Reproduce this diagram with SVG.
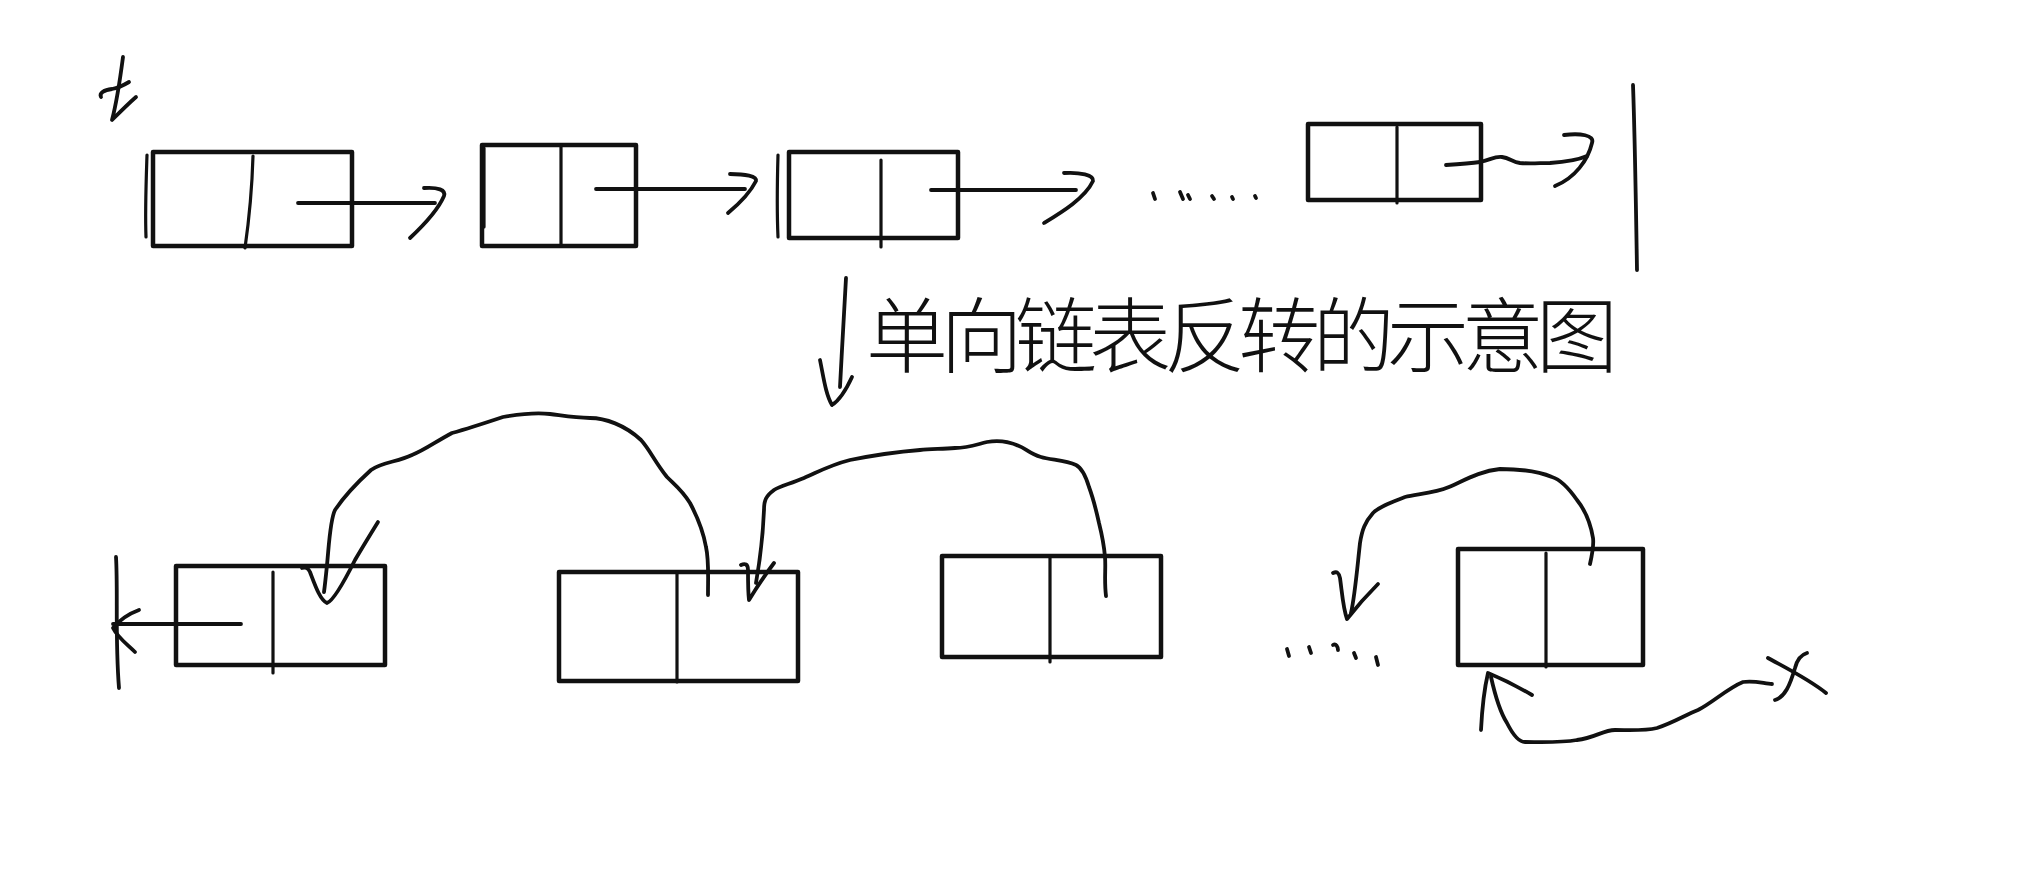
<svg xmlns="http://www.w3.org/2000/svg" width="2022" height="874" viewBox="0 0 2022 874">
<style>
.box{fill:none;stroke:#111;stroke-width:4.5;stroke-linejoin:round}
.div{fill:none;stroke:#111;stroke-width:3.2;stroke-linecap:round}
.ln{fill:none;stroke:#111;stroke-width:3.8;stroke-linecap:round;stroke-linejoin:round}
.tx{font-family:"Noto Sans CJK SC","Noto Sans CJK JP",sans-serif;font-size:82px;font-weight:300;fill:#111}
</style>
<rect width="2022" height="874" fill="#fff"/>
<g id="label-t"><path class="ln" d="M123,57 C120,80 116,105 112,120 C120,112 128,104 136,97"/><path class="ln" d="M101,97 C99,93 104,90 112,89 C118,88 124,85 129,82"/></g>
<g id="node1"><rect class="box" x="153" y="152" width="199" height="94"/><path class="div" d="M253,156 C252,190 249,220 245,248"/><path class="div" d="M147,155 C146,185 145,210 146,237"/></g>
<g id="node2"><rect class="box" x="482" y="145" width="154" height="101"/><path class="div" d="M561,145 L561,246"/><path class="div" d="M484,148 L484,227"/></g>
<g id="node3"><rect class="box" x="789" y="152" width="169" height="86"/><path class="div" d="M881,160 L881,247"/><path class="div" d="M778,155 C777,190 777,215 778,237"/></g>
<g id="node4"><rect class="box" x="1308" y="124" width="173" height="76"/><path class="div" d="M1397,127 L1397,203"/></g>
<g id="title"><text class="tx" x="866" y="366" textLength="752" lengthAdjust="spacing">单向链表反转的示意图</text></g>
<g id="node5"><rect class="box" x="176" y="566" width="209" height="99"/><path class="div" d="M273,572 L273,673"/></g>
<g id="node6"><rect class="box" x="559" y="572" width="239" height="109"/><path class="div" d="M677,572 L677,682"/></g>
<g id="node7"><rect class="box" x="942" y="556" width="219" height="101"/><path class="div" d="M1050,558 L1050,662"/></g>
<g id="node8"><rect class="box" x="1458" y="549" width="185" height="116"/><path class="div" d="M1546,553 L1546,667"/></g>
<g id="label-x"><path class="ln" d="M1768,658 C1790,670 1810,680 1826,693"/><path class="ln" d="M1807,653 C1800,655 1797,660 1795,668 C1790,685 1785,697 1775,700"/></g>
<g id="connectors">
<path class="ln" d="M298,203 L435,203"/><path class="ln" d="M424,188 C438,187 446,190 444,196 C438,210 425,224 410,238"/>
<path class="ln" d="M596,189 L745,189"/><path class="ln" d="M730,174 C745,174 757,176 756,181 C750,193 740,203 728,213"/>
<path class="ln" d="M931,190 L1076,190"/><path class="ln" d="M1064,173 C1080,172 1094,175 1093,181 C1085,198 1062,212 1044,223"/>
<path class="ln" d="M1153,193 L1155,199 M1180,192 L1183,199 M1188,195 L1190,199 M1212,196 L1214,199 M1232,197 L1233,199 M1255,196 L1256,198"/>
<path class="ln" d="M1446,165 C1460,164 1472,163 1480,162 C1490,160 1495,156 1502,157 C1510,158 1512,162 1520,163 C1530,164 1540,163 1550,163 C1565,162 1578,160 1587,156"/>
<path class="ln" d="M1564,135 C1580,133 1595,135 1592,143 C1588,160 1575,178 1555,186"/>
<path class="ln" d="M1633,85 C1635,140 1636,210 1637,270"/>
<path class="ln" d="M846,278 C844,310 842,350 840,387"/>
<path class="ln" d="M820,360 C824,380 826,395 832,405 C840,400 846,390 852,377"/>
<path class="ln" d="M116,557 C118,590 115,640 119,688"/>
<path class="ln" d="M241,624 L113,624"/><path class="ln" d="M139,610 C128,614 118,622 113,628 C118,638 128,645 135,652"/>
<path class="ln" d="M708,595 C708,575 709,560 706,547 C703,530 698,518 690,503 C682,490 675,485 667,477 C655,462 650,450 641,440 C625,425 605,418 590,418 C575,418 565,416 550,414 C535,412 520,414 503,417 C485,423 470,428 452,433 C435,442 425,450 412,455 C398,462 382,462 371,470 C360,480 345,495 335,510 C330,520 329,545 327,565 C326,575 325,585 324,592"/>
<path class="ln" d="M302,568 C306,567 308,568 310,572 C315,585 320,600 327,603 C333,601 345,580 355,560 C362,548 370,535 378,522"/>
<path class="ln" d="M1106,596 C1104,580 1106,568 1105,557 C1104,545 1102,535 1099,523 C1095,505 1092,495 1089,487 C1086,477 1082,468 1076,465 C1065,460 1050,460 1041,457 C1030,454 1025,448 1019,446 C1008,441 998,440 987,442 C975,445 968,448 955,448 C940,449 930,449 920,450 C895,452 875,455 850,460 C830,465 818,472 804,478 C790,484 780,486 774,490 C766,496 764,500 764,510 C763,535 760,560 756,583"/>
<path class="ln" d="M741,565 C745,563 748,564 748,570 C748,582 748,592 749,600 C755,590 765,575 774,563"/>
<path class="ln" d="M1590,564 C1592,555 1594,545 1593,538 C1590,520 1585,510 1577,500 C1570,490 1562,480 1552,477 C1540,472 1520,469 1500,469 C1480,471 1465,480 1449,487 C1435,493 1418,494 1405,497 C1392,502 1380,506 1373,513 C1365,522 1362,530 1360,543 C1357,570 1355,595 1351,613"/>
<path class="ln" d="M1333,573 C1337,571 1339,573 1340,578 C1342,592 1343,608 1347,619 C1358,605 1367,595 1378,584"/>
<path class="ln" d="M1287,649 L1289,656 M1309,647 L1311,653 M1333,645 C1336,643 1338,647 1338,650 M1354,653 L1356,658 M1376,657 L1378,665"/>
<path class="ln" d="M1481,730 C1482,710 1484,690 1488,673 C1505,680 1520,688 1532,695"/>
<path class="ln" d="M1491,677 C1495,695 1500,712 1507,723 C1512,733 1518,742 1525,742 C1540,742 1560,743 1577,740 C1595,738 1603,730 1615,730 C1630,730 1645,731 1657,728 C1675,722 1685,715 1698,710 C1712,703 1728,688 1743,682 C1755,680 1765,684 1772,684"/>
</g>
</svg>
